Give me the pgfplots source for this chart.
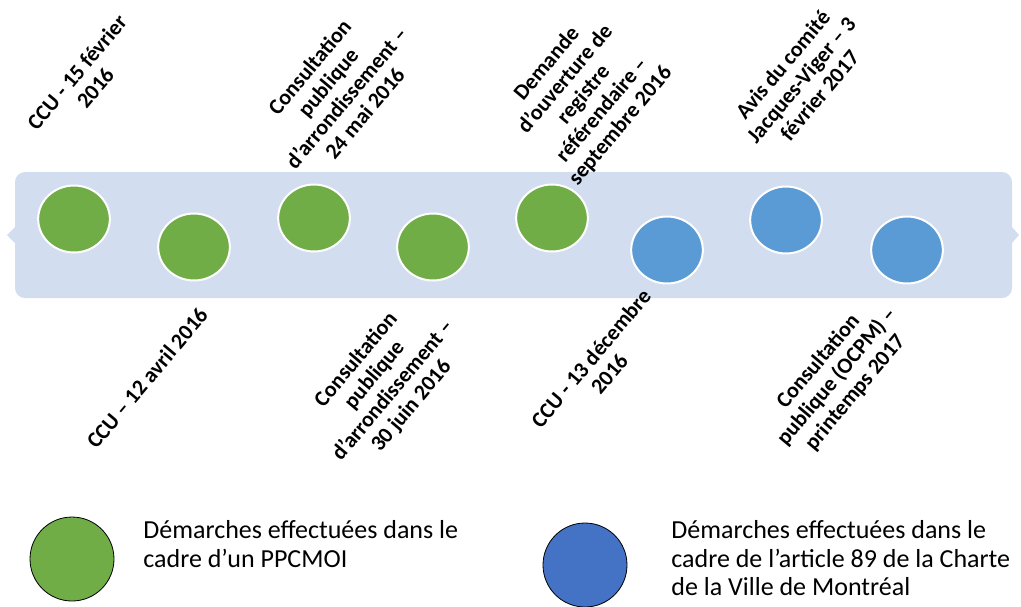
\documentclass[border=0pt]{standalone}
\usepackage{fontspec}
\setmainfont{Carlito}
\usepackage{pgfplots}
\pgfplotsset{compat=1.18}
\definecolor{greenc}{HTML}{70AD47}
\definecolor{bluec}{HTML}{5B9BD5}
\definecolor{legblue}{HTML}{4472C4}
\definecolor{bandc}{HTML}{D2DDEF}
\begin{document}
\begin{tikzpicture}[
  lab/.style={rotate=50, align=center, inner sep=0pt, font=\bfseries\fontsize{11}{12}\selectfont},
  leg/.style={anchor=north west, align=left, inner sep=0pt, font=\fontsize{13}{14.3}\selectfont}]
\begin{axis}[scale only axis, width=510.5pt, height=303pt,
  xmin=0, xmax=1021, ymin=0, ymax=606, y dir=reverse,
  hide axis, clip=false, at={(0,0)}, anchor=south west]
% band
\fill[bandc, rounded corners=5pt] (axis cs:15,172) rectangle (axis cs:1012,298);
\fill[bandc] (axis cs:16,226) -- (axis cs:7,235) -- (axis cs:16,244) -- cycle;
\fill[bandc] (axis cs:1011,226) -- (axis cs:1019,235) -- (axis cs:1011,244) -- cycle;
% milestones
\addplot[only marks, mark=*, mark size=16.75pt,
  mark options={fill=greenc, draw=white, line width=1pt, xscale=1.07}]
  coordinates {(74,219) (194,247) (314,218) (433,247) (552,218)};
\addplot[only marks, mark=*, mark size=16.75pt,
  mark options={fill=bluec, draw=white, line width=1pt, xscale=1.07}]
  coordinates {(667,250) (786,220) (907,250)};
% legend markers
\addplot[only marks, mark=*, mark size=21pt,
  mark options={fill=greenc, draw=none}] coordinates {(72,559)};
\addplot[only marks, mark=*, mark size=21pt,
  mark options={fill=legblue, draw=none}] coordinates {(585,565)};
% labels
\node[lab] at (axis cs:86,80) {CCU - 15 février\\2016};
\node[lab] at (axis cs:147,378) {CCU – 12 avril 2016};
\node[lab] at (axis cs:337,90) {Consultation\\publique\\d’arrondissement –\\24 mai 2016};
\node[lab] at (axis cs:384,383) {Consultation\\publique\\d’arrondissement –\\30 juin 2016};
\node[lab] at (axis cs:584,95) {Demande\\d’ouverture de\\registre\\référendaire –\\septembre 2016};
\node[lab] at (axis cs:600,366) {CCU - 13 décembre\\2016};
\node[lab] at (axis cs:801,80) {Avis du comité\\Jacques-Viger – 3\\février 2017};
\node[lab] at (axis cs:837,377) {Consultation\\publique (OCPM) –\\printemps 2017};
% legend text
\node[leg] at (axis cs:143,520) {Démarches effectuées dans le\\cadre d’un PPCMOI};
\node[leg] at (axis cs:671,520) {Démarches effectuées dans le\\cadre de l’article 89 de la Charte\\de la Ville de Montréal};
\end{axis}
\pgfresetboundingbox
\path (0,0) rectangle (510.5pt,303pt);
\end{tikzpicture}
\end{document}
